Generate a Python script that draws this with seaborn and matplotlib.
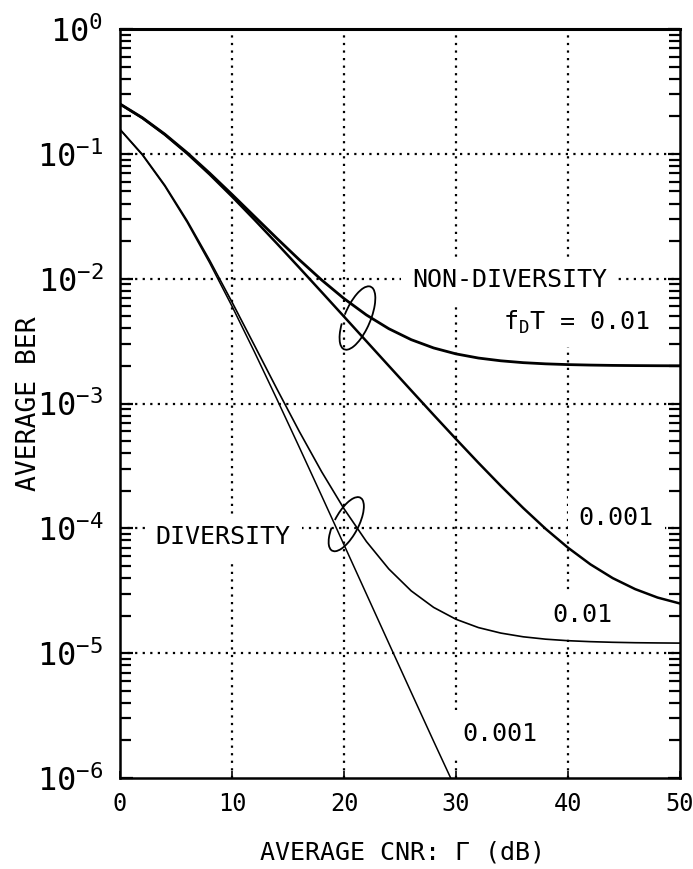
import numpy as np
import pandas as pd
import matplotlib
matplotlib.use("Agg")
import matplotlib.pyplot as plt
import matplotlib.transforms as mtransforms
from matplotlib.patches import Arc
from matplotlib.ticker import LogLocator, NullFormatter
import seaborn as sns

# Average CNR (dB)
cnr_db = [0, 2, 4, 6, 8, 10, 12, 14, 16, 18, 20, 22, 24, 26, 28, 30,
          32, 34, 36, 38, 40, 42, 44, 46, 48, 50]

# Non-diversity, fDT = 0.01
ber_nd_001 = [0.251, 0.1947, 0.1438, 0.1020, 0.0701, 0.04727, 0.03156, 0.02107,
              0.01420, 0.009769, 0.006931, 0.005122, 0.003975, 0.003247, 0.002788,
              0.002498, 0.002314, 0.002199, 0.002125, 0.002079, 0.002050, 0.002032,
              0.002020, 0.002013, 0.002008, 0.002005]
# Non-diversity, fDT = 0.001
ber_nd_0001 = [0.250, 0.1934, 0.1424, 0.1004, 0.06842, 0.04547, 0.02969, 0.01916,
               0.01227, 0.007820, 0.004970, 0.003155, 0.002003, 0.001273, 0.000811,
               0.0005195, 0.0003352, 0.0002190, 0.0001456, 0.0000992, 0.0000700,
               0.0000515, 0.0000399, 0.0000326, 0.0000279, 0.0000250]
# Diversity, fDT = 0.01
ber_d_001 = [0.1574, 0.09897, 0.05609, 0.02909, 0.01405, 0.006492, 0.002925,
             0.001313, 0.0005992, 0.0002844, 0.0001435, 7.844e-05, 4.728e-05,
             3.156e-05, 2.328e-05, 1.869e-05, 1.604e-05, 1.449e-05, 1.353e-05,
             1.295e-05, 1.259e-05, 1.237e-05, 1.2225e-05, 1.213e-05, 1.208e-05,
             1.2044e-05]
# Diversity, fDT = 0.001 (leaves the plot below 1e-6)
cnr_db_d0001 = [0, 2, 4, 6, 8, 10, 12, 14, 16, 18, 20, 22, 24, 26, 28, 30]
ber_d_0001 = [0.15625, 0.09775, 0.05506, 0.02822, 0.013403, 0.006015, 0.002592,
              0.0010873, 0.00044796, 0.0001825, 7.386e-05, 2.98e-05, 1.202e-05,
              4.857e-06, 1.972e-06, 8.094e-07]

xticks = [0, 10, 20, 30, 40, 50]
yticks = [1e-6, 1e-5, 1e-4, 1e-3, 1e-2, 1e-1, 1e0]
ytick_labels = [r"$\mathregular{10^{%d}}$" % e for e in range(-6, 1)]

sns.set_theme(style="white")
FONT = "DejaVu Sans Mono"
plt.rcParams["font.family"] = [FONT, "DejaVu Sans"]
plt.rcParams["mathtext.fontset"] = "custom"
plt.rcParams["mathtext.rm"] = FONT
plt.rcParams["mathtext.it"] = FONT
plt.rcParams["text.color"] = "black"
plt.rcParams["axes.labelcolor"] = "black"

fig = plt.figure(figsize=(6.93, 8.69), dpi=100)
ax = fig.add_axes([0.1732, 0.1047, 0.8080, 0.8619])

frames = [
    pd.DataFrame({"cnr": cnr_db, "ber": ber_nd_001, "curve": "nd_001"}),
    pd.DataFrame({"cnr": cnr_db, "ber": ber_nd_0001, "curve": "nd_0001"}),
    pd.DataFrame({"cnr": cnr_db, "ber": ber_d_001, "curve": "d_001"}),
    pd.DataFrame({"cnr": cnr_db_d0001, "ber": ber_d_0001, "curve": "d_0001"}),
]
widths = {"nd_001": 2.0, "nd_0001": 1.8, "d_001": 1.2, "d_0001": 1.1}
for df in frames:
    name = df["curve"].iloc[0]
    sns.lineplot(data=df, x="cnr", y="ber", ax=ax, color="black",
                 linewidth=widths[name], zorder=4, legend=False)

ax.set_yscale("log")
ax.set_xlim(0, 50)
ax.set_ylim(1e-6, 1)

# dotted grid
grid_kw = dict(color="black", linewidth=1.6, linestyle=(0, (1, 2.4)), zorder=1)
for gx in xticks[1:-1]:
    ax.axvline(gx, **grid_kw)
for gy in yticks[1:-1]:
    ax.axhline(gy, **grid_kw)

ax.set_xticks(xticks)
ax.set_xticklabels([str(v) for v in xticks])
ax.set_yticks(yticks)
ax.set_yticklabels(ytick_labels)
ax.yaxis.set_minor_locator(LogLocator(base=10, subs=np.arange(2, 10)))
ax.yaxis.set_minor_formatter(NullFormatter())

ax.tick_params(axis="y", which="both", direction="in", left=True, right=True,
               width=1.6, colors="black", labelsize=23, pad=12)
ax.tick_params(axis="y", which="major", length=9)
ax.tick_params(axis="y", which="minor", length=8)
ax.tick_params(axis="x", which="major", direction="in", bottom=True, top=False,
               length=5, width=1.2, labelsize=17, pad=10, colors="black")
for side in ["left", "right", "top", "bottom"]:
    ax.spines[side].set_color("black")
    ax.spines[side].set_linewidth(1.8)
ax.spines["top"].set_linewidth(2.2)

ax.set_xlabel(r"AVERAGE CNR: $\mathregular{\Gamma}$ (dB)", fontsize=18)
ax.set_ylabel("AVERAGE BER", fontsize=19)
ax.xaxis.set_label_coords(0.5, -0.081)
ax.yaxis.set_label_coords(-0.139, 0.5)

box = dict(facecolor="white", edgecolor="none", pad=8)
txt = dict(fontsize=18, ha="center", va="center", zorder=3, bbox=box)
ax.text(34.8, 0.0098, "NON-DIVERSITY", **txt)
ax.text(40.8, 0.0045, r"$\mathregular{f_DT}$ = 0.01", **txt)
ax.text(44.3, 1.21e-4, "0.001", **txt)
ax.text(41.3, 2.02e-5, "0.01", **txt)
ax.text(33.9, 2.25e-6, "0.001", **txt)
ax.text(9.2, 8.5e-5, "DIVERSITY", **txt)

# loops bundling each pair of curves
def loop(xc, yc, w_in, h_in, ang):
    tr = fig.dpi_scale_trans + mtransforms.ScaledTranslation(xc, yc, ax.transData)
    arc = Arc((0, 0), w_in, h_in, angle=ang, theta1=222, theta2=188,
              transform=tr, color="black", linewidth=1.3, zorder=5)
    ax.add_patch(arc)

loop(21.2, 4.84e-3, 0.26, 0.68, -23)
loop(20.2, 1.08e-4, 0.24, 0.60, -28)

fig.savefig("out.png", dpi=100)
